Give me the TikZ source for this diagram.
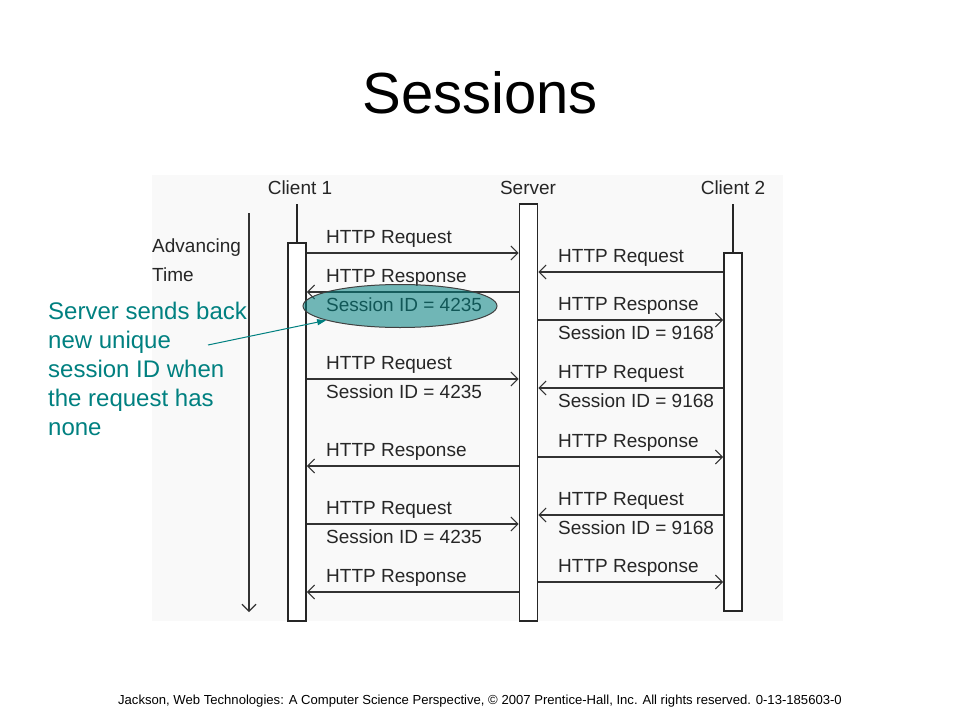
\documentclass[tikz,border=0pt]{standalone}
\usepackage{fontspec}
\setmainfont{Liberation Sans}
\usetikzlibrary{arrows.meta,shapes.geometric}
\definecolor{noteteal}{RGB}{0,128,128}
\definecolor{panelgray}{RGB}{249,249,249}

\begin{document}
\begin{tikzpicture}[x=1pt,y=-1pt,
    lifebox/.style={draw=black!85, line width=1.6pt, fill=white, minimum width=18pt, inner sep=0pt, anchor=north},
    msg/.style={line width=1.1pt, draw=black!80, -{Straight Barb[length=7pt,width=14pt]}},
    lbl/.style={anchor=base west, inner sep=0pt, text=black!85, font=\fontsize{19}{22}\selectfont},
    head/.style={anchor=base, inner sep=0pt, text=black!85, font=\fontsize{19}{22}\selectfont}]
        \useasboundingbox (0,0) rectangle (960,720);
        % Slide title and footer
        \node[anchor=base, inner sep=0pt, font=\fontsize{58}{70}\selectfont] (title) at (480,113) {Sessions};
        \node[anchor=base, inner sep=0pt, font=\fontsize{13.1}{15}\selectfont] (footer) at (480,704)
            {Jackson, Web Technologies: A Computer Science Perspective, \textcopyright{} 2007 Prentice-Hall, Inc. All rights reserved. 0-13-185603-0};
        % Diagram panel
        \fill[panelgray] (152,175) rectangle (783,621);
        % Participants
        \node[head] (c1lbl) at (300,194) {Client 1};
        \node[head] (srvlbl) at (528,194) {Server};
        \node[head] (c2lbl) at (733,194) {Client 2};
        \node[lifebox, minimum height=378pt] (c1) at (297,242) {};
        \node[lifebox, minimum height=417pt] (srv) at (528.5,203) {};
        \node[lifebox, minimum height=358pt] (c2) at (733,252) {};
        \draw[line width=1.2pt, black!85] (c1.north) -- (c1.north |- 0,204);
        \draw[line width=1.2pt, black!85] (c2.north) -- (c2.north |- 0,204);
        % Advancing time
        \coordinate (t0) at (249,213);
        \coordinate (t1) at (249,612);
        \draw[msg] (t0) -- (t1);
        \node[lbl] (adv) at (152,252) {Advancing};
        \node[lbl] (time) at (152,281) {Time};
        % Client 1 <-> Server
        \foreach \y/\a/\b/\txtup/\txtdn in {253/c1.east/srv.west/HTTP Request/{},
                292/srv.west/c1.east/HTTP Response/Session ID = 4235,
                379/c1.east/srv.west/HTTP Request/Session ID = 4235,
                466/srv.west/c1.east/HTTP Response/{},
                524/c1.east/srv.west/HTTP Request/Session ID = 4235,
                592/srv.west/c1.east/HTTP Response/{}} {
            \draw[msg] (\a |- 0,\y) -- (\b |- 0,\y);
            \node[lbl] at (326,\y-10) {\txtup};
            \node[lbl] at (326,\y+19) {\txtdn};
        }
        % Server <-> Client 2
        \foreach \y/\a/\b/\txtup/\txtdn in {272/c2.west/srv.east/HTTP Request/{},
                320/srv.east/c2.west/HTTP Response/Session ID = 9168,
                388/c2.west/srv.east/HTTP Request/Session ID = 9168,
                457/srv.east/c2.west/HTTP Response/{},
                515/c2.west/srv.east/HTTP Request/Session ID = 9168,
                582/srv.east/c2.west/HTTP Response/{}} {
            \draw[msg] (\a |- 0,\y) -- (\b |- 0,\y);
            \node[lbl] at (558,\y-10) {\txtup};
            \node[lbl] at (558,\y+19) {\txtdn};
        }
        % Highlight of the new session ID
        \node[ellipse, draw=black!75, line width=1pt, fill=noteteal, fill opacity=0.55,
            minimum width=194pt, minimum height=43pt] (sid) at (400,306) {};
        \node[anchor=north west, inner sep=0pt, align=left, text=noteteal, font=\fontsize{24}{29}\selectfont] (note) at (48,302)
            {Server sends back\\new unique\\session ID when\\the request has\\none};
        \coordinate (notetail) at (208,345);
        \draw[noteteal, line width=1pt, -{Triangle[length=9pt,width=6pt]}] (notetail) -- (sid.191);
\end{tikzpicture}
\end{document}
